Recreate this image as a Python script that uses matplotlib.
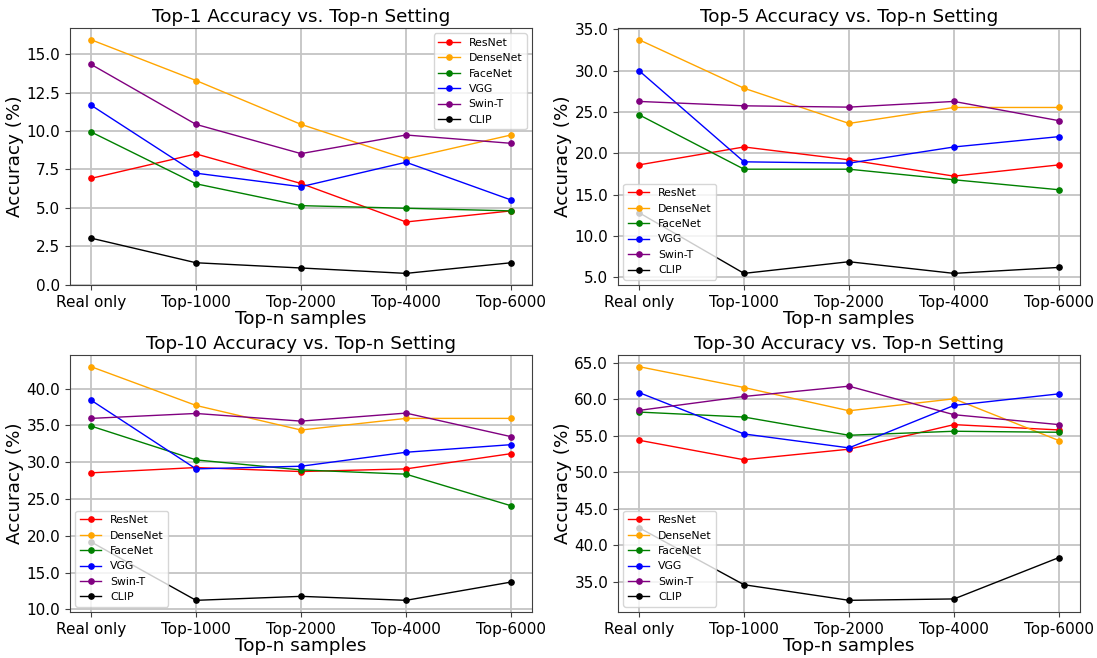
import matplotlib
matplotlib.use("Agg")
import matplotlib.pyplot as plt
from matplotlib.ticker import FormatStrFormatter

settings = ["Real only", "Top-1000", "Top-2000", "Top-4000", "Top-6000"]
models = ["ResNet", "DenseNet", "FaceNet", "VGG", "Swin-T", "CLIP"]
colors = ["red", "orange", "green", "blue", "purple", "black"]

top1_resnet = [6.92, 8.51, 6.59, 4.09, 4.81]
top1_densenet = [15.93, 13.28, 10.43, 8.19, 9.74]
top1_facenet = [9.94, 6.57, 5.15, 4.98, 4.81]
top1_vgg = [11.68, 7.26, 6.38, 7.97, 5.52]
top1_swint = [14.33, 10.43, 8.53, 9.74, 9.20]
top1_clip = [3.04, 1.44, 1.10, 0.75, 1.44]

top5_resnet = [18.61, 20.78, 19.22, 17.25, 18.61]
top5_densenet = [33.76, 27.89, 23.63, 25.56, 25.56]
top5_facenet = [24.68, 18.09, 18.09, 16.81, 15.60]
top5_vgg = [30.02, 18.98, 18.82, 20.78, 22.03]
top5_swint = [26.29, 25.76, 25.60, 26.29, 23.96]
top5_clip = [12.83, 5.48, 6.89, 5.48, 6.20]

top10_resnet = [28.54, 29.26, 28.72, 29.08, 31.15]
top10_densenet = [42.97, 37.70, 34.36, 35.94, 35.94]
top10_facenet = [34.90, 30.30, 28.94, 28.36, 24.07]
top10_vgg = [38.42, 29.08, 29.44, 31.34, 32.37]
top10_swint = [35.94, 36.61, 35.57, 36.66, 33.46]
top10_clip = [19.16, 11.22, 11.76, 11.22, 13.70]

top30_resnet = [54.41, 51.73, 53.18, 56.55, 55.82]
top30_densenet = [64.50, 61.64, 58.45, 60.09, 54.36]
top30_facenet = [58.27, 57.59, 55.09, 55.64, 55.50]
top30_vgg = [60.95, 55.27, 53.36, 59.18, 60.77]
top30_swint = [58.50, 60.41, 61.82, 57.91, 56.55]
top30_clip = [42.41, 34.59, 32.45, 32.64, 38.32]

panels = [
    ("Top-1 Accuracy vs. Top-n Setting",
     [top1_resnet, top1_densenet, top1_facenet, top1_vgg, top1_swint, top1_clip], "upper right"),
    ("Top-5 Accuracy vs. Top-n Setting",
     [top5_resnet, top5_densenet, top5_facenet, top5_vgg, top5_swint, top5_clip], "lower left"),
    ("Top-10 Accuracy vs. Top-n Setting",
     [top10_resnet, top10_densenet, top10_facenet, top10_vgg, top10_swint, top10_clip], "lower left"),
    ("Top-30 Accuracy vs. Top-n Setting",
     [top30_resnet, top30_densenet, top30_facenet, top30_vgg, top30_swint, top30_clip], "lower left"),
]

fig, axes = plt.subplots(2, 2, figsize=(10.97, 6.58), dpi=100)
fig.subplots_adjust(left=0.0638, right=0.9845, top=0.9574, bottom=0.0699,
                    wspace=0.186, hspace=0.272)

for ax, (title, series, loc) in zip(axes.flat, panels):
    for name, vals, c in zip(models, series, colors):
        ax.plot(settings, vals, marker="o", markersize=3.8, linewidth=1.0, color=c, label=name)
    ax.set_title(title, fontsize=13.2, pad=4)
    ax.set_xlabel("Top-n samples", fontsize=13.2, labelpad=0)
    ax.set_ylabel("Accuracy (%)", fontsize=13.2, labelpad=2)
    ax.tick_params(axis="both", labelsize=11, color="#404040")
    ax.yaxis.set_major_formatter(FormatStrFormatter("%.1f"))
    ax.grid(True, linewidth=1.3, color="#c4c4c4")
    for s in ax.spines.values():
        s.set_color("#404040")
    ax.legend(loc=loc, fontsize=7.8)

fig.savefig("out.png", dpi=100)
